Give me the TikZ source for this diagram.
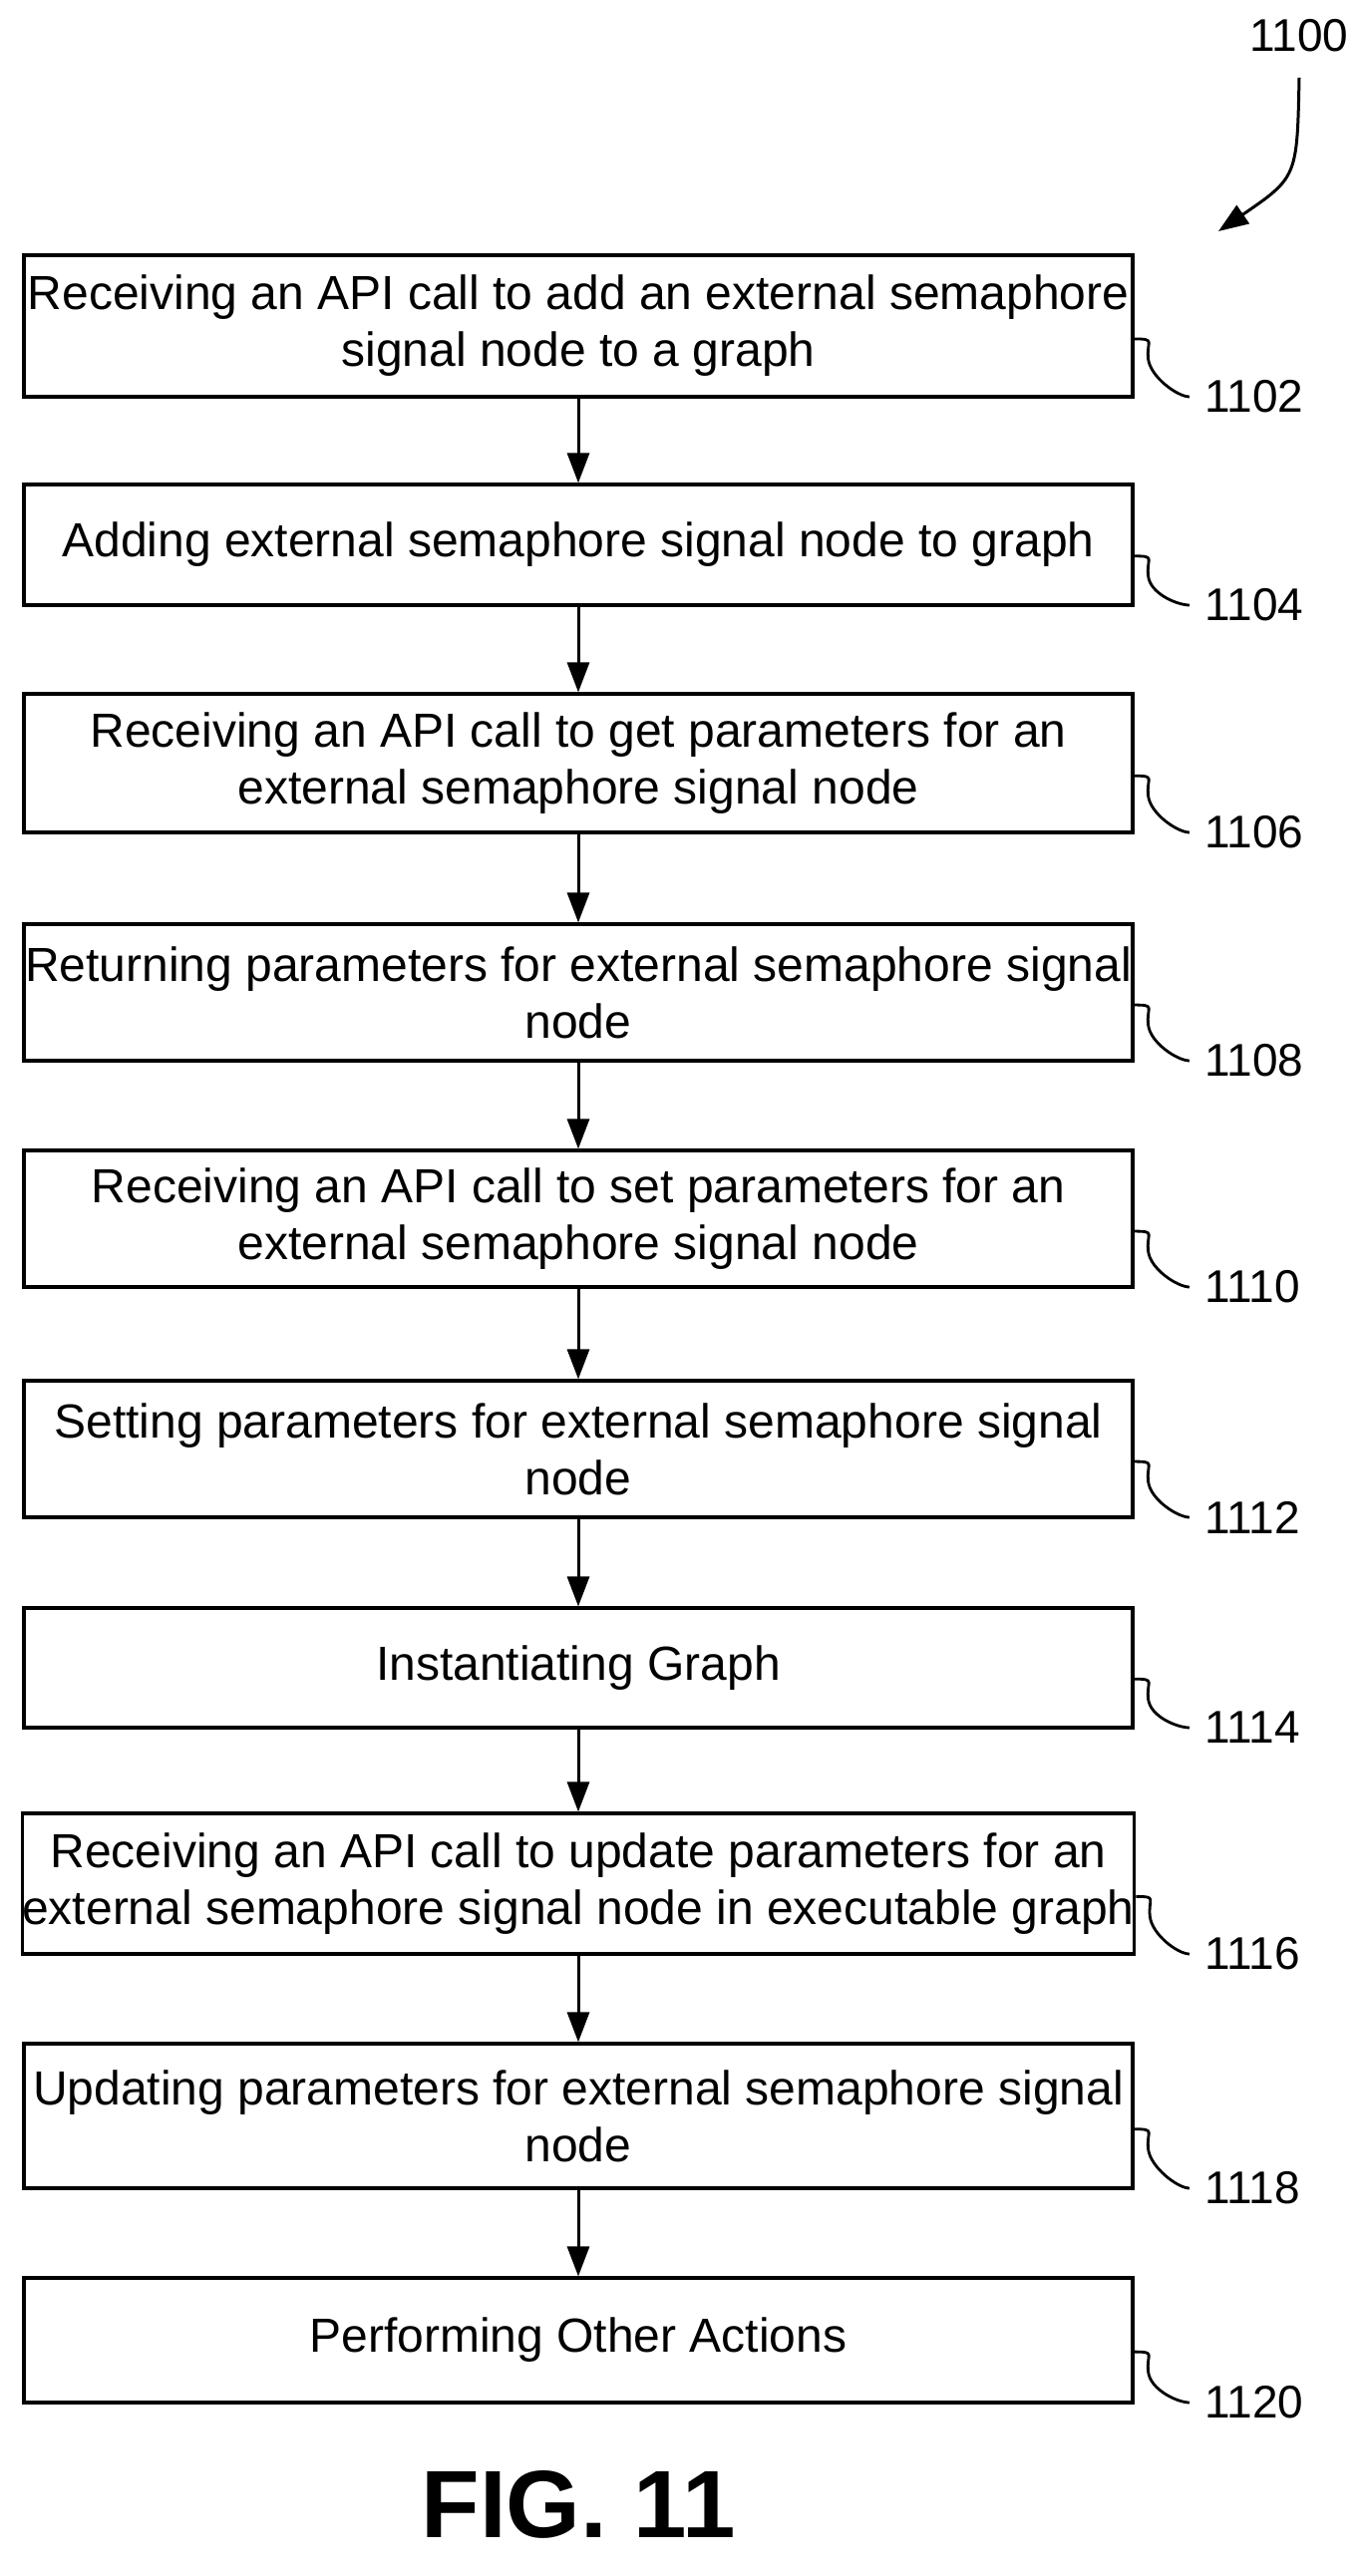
\documentclass[tikz,border=0pt]{standalone}
\usepackage{fontspec}
\setmainfont{Liberation Sans}
\usetikzlibrary{arrows.meta}
\begin{document}
\begin{tikzpicture}[x=1pt,y=-1pt,
  box/.style={draw,line width=3.2pt,minimum width=1112pt,inner sep=0pt,align=center,font=\fontsize{48}{57}\selectfont},
  lab/.style={font=\fontsize{46}{50}\selectfont,anchor=west},
  arr/.style={line width=3pt,-{Triangle[length=30pt,width=22pt]}},
  sq/.style={line width=2.8pt}]
\useasboundingbox (0,0) rectangle (1362,2584);
\def\B#1#2#3#4{\node[box,minimum height=#3-#2] (b#1) at (580,{(#2+#3)/2}) {#4};
  \node[lab] (l#1) at (1205,{#3+0}) {#1};
  \draw[sq] (b#1.south east) ++(0,{-(#3-#2)*0.42}) coordinate (s#1) .. controls ++(22,0) and ++(-2,-18) .. ++(14,20) .. controls ++(2,18) and ++(-12,0) .. ([xshift=-12pt]l#1.west);}
\B{1102}{256}{398}{Receiving an API call to add an external semaphore\\signal node to a graph}
\B{1104}{486}{607}{Adding external semaphore signal node to graph}
\B{1106}{696}{835}{Receiving an API call to get parameters for an\\external semaphore signal node}
\B{1108}{927}{1064}{Returning parameters for external semaphore signal\\node}
\B{1110}{1154}{1291}{Receiving an API call to set parameters for an\\external semaphore signal node}
\B{1112}{1385}{1522}{Setting parameters for external semaphore signal\\node}
\B{1114}{1613}{1733}{Instantiating Graph}
\B{1116}{1819}{1960}{Receiving an API call to update parameters for an\\external semaphore signal node in executable graph}
\B{1118}{2050}{2195}{Updating parameters for external semaphore signal\\node}
\B{1120}{2285}{2410}{Performing Other Actions}
\foreach \a/\b in {1102/1104,1104/1106,1106/1108,1108/1110,1110/1112,1112/1114,1114/1116,1116/1118,1118/1120}
  \draw[arr] (b\a) -- (b\b);
\node[font=\fontsize{46}{50}\selectfont] (t1100) at (1303,36) {1100};
\coordinate (e1100) at (1222,232);
\draw[arr] ([yshift=-22pt]t1100.south) .. controls ++(-2,100) .. (e1100);
\node[font=\bfseries\fontsize{96}{110}\selectfont] (fig) at (580,2512) {FIG. 11};
\end{tikzpicture}
\end{document}
